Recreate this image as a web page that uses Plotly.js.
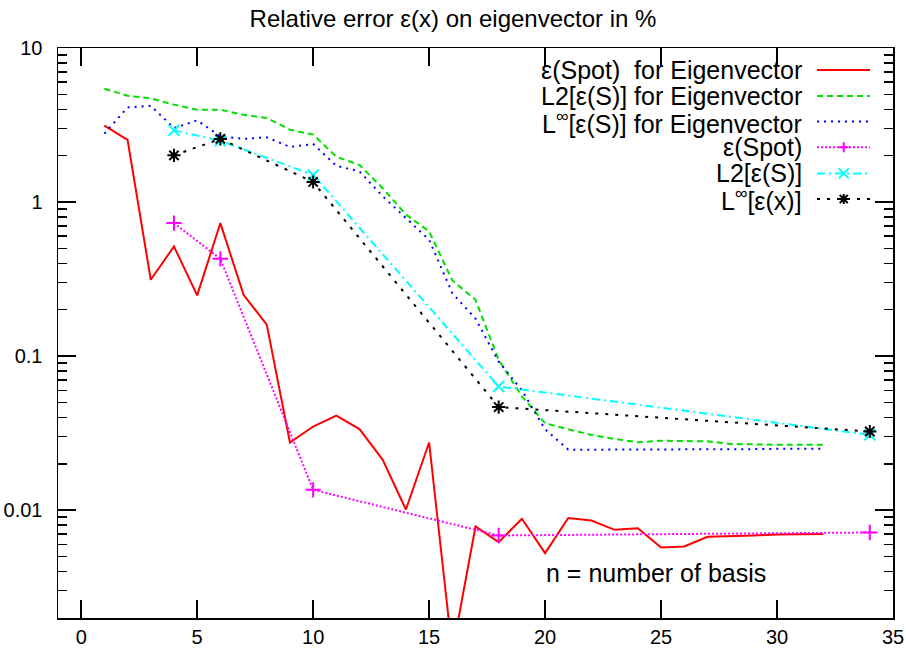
<!DOCTYPE html>
<html>
<head>
<meta charset="utf-8">
<script src="https://cdn.plot.ly/plotly-3.0.1.min.js"></script>
<style>html,body{margin:0;padding:0;background:#fff;}#chart{width:906px;height:650px;}</style>
</head>
<body>
<div id="chart"></div>
<script>
// ---- data ----
const nEig = [1,2,3,4,5,6,7,8,9,10,11,12,13,14,15,16,17,18,19,20,21,22,23,24,25,26,27,28,29,30,31,32];
const spotEig = [3.13,2.53,0.313,0.515,0.248,0.73,0.25,0.16,0.0275,0.0349,0.0411,0.0336,0.0212,0.0101,0.0275,0.0012,0.00783,0.0062,0.0088,0.00526,0.0089,0.00857,0.00745,0.00763,0.00572,0.00581,0.00671,0.00675,0.00684,0.00695,0.007,0.007];
const l2Eig = [5.44,4.90,4.71,4.29,3.97,3.97,3.69,3.51,2.95,2.74,1.97,1.74,1.23,0.83,0.645,0.31,0.232,0.0946,0.0547,0.0367,0.0335,0.0308,0.029,0.0276,0.0282,0.0282,0.028,0.0269,0.0266,0.0266,0.0266,0.0266];
const linfEig = [2.78,4.11,4.22,3.02,3.39,2.67,2.57,2.63,2.28,2.38,1.72,1.58,1.09,0.787,0.569,0.256,0.175,0.092,0.060,0.0335,0.0247,0.0247,0.0247,0.0247,0.0247,0.0248,0.0248,0.0249,0.0249,0.025,0.025,0.025];
const nSub = [4,6,10,18,34];
const spotSub = [0.73,0.428,0.01355,0.00685,0.00716];
const l2Sub = [2.92,2.50,1.50,0.0635,0.0308];
const linfSub = [2.01,2.57,1.35,0.0467,0.0324];
const legendLabels = ["ε(Spot)\u00a0 for Eigenvector","L2[ε(S)] for Eigenvector","L<sup>∞</sup>[ε(S)] for Eigenvector","ε(Spot)","L2[ε(S)]","L<sup>∞</sup>[ε(x)]"];
const xTickVals = [0,5,10,15,20,25,30,35];
const yTickVals = [0.01,0.1,1,10];
const yTickText = ["0.01","0.1","1","10"];

// ---- styles ----
const colors = ["#ff0000","#00e000","#0000ff","#ff00ff","#00ffff","#000000"];
const dashes = ["solid","6px,4px","2px,5px","2px,2px","8px,4px,2px,4px","3px,7px"];
const symbols = [null,null,null,"cross-thin-open","x-thin-open","asterisk-open"];

const series = [
  {x:nEig, y:spotEig},
  {x:nEig, y:l2Eig},
  {x:nEig, y:linfEig},
  {x:nSub, y:spotSub},
  {x:nSub, y:l2Sub},
  {x:nSub, y:linfSub}
];
const traces = series.map((s,i)=>{
  const t = {x:s.x, y:s.y, type:'scatter', mode: symbols[i] ? 'lines+markers':'lines',
    name: legendLabels[i], showlegend:false, cliponaxis:true,
    line:{color:colors[i], width:2, dash:dashes[i]}};
  if (symbols[i]) t.marker = {symbol:symbols[i], size:11, color:colors[i], line:{color:colors[i], width:2}};
  return t;
});

// minor log ticks
const minorVals = [];
[0.001,0.01,0.1,1].forEach(d=>{for(let k=2;k<=9;k++) minorVals.push(d*k);});

// ---- custom legend (text left, sample right) ----
const rowY = [0.9614,0.916,0.871,0.826,0.780,0.735];
const annotations = legendLabels.map((lab,i)=>({
  xref:'paper', yref:'paper', x:0.893, y:rowY[i], xanchor:'right', yanchor:'middle',
  text:lab, showarrow:false, font:{family:'Liberation Sans, Arial, sans-serif', size:25, color:'#000'}
}));
annotations.push({xref:'paper', yref:'paper', x:0.5825, y:0.079, xanchor:'left', yanchor:'middle',
  text:'n = number of basis', showarrow:false, font:{family:'Liberation Sans, Arial, sans-serif', size:25, color:'#000'}});

const shapes = [];
rowY.forEach((yy,i)=>{
  shapes.push({type:'line', xref:'paper', yref:'paper', x0:0.909, x1:0.9725, y0:yy, y1:yy,
    line:{color:colors[i], width:2, dash:dashes[i]}});
});
const mpaths = {
  "cross-thin-open":"M-5,0H5M0,-5V5",
  "x-thin-open":"M-5,-5L5,5M-5,5L5,-5",
  "asterisk-open":"M-5,0H5M0,-5V5M-4,-4L4,4M-4,4L4,-4"
};
rowY.forEach((yy,i)=>{
  if(!symbols[i]) return;
  shapes.push({type:'path', xref:'paper', yref:'paper', xsizemode:'pixel', ysizemode:'pixel',
    xanchor:0.941, yanchor:yy, path:mpaths[symbols[i]], line:{color:colors[i], width:2}});
});

const axisFont = {family:'Liberation Sans, Arial, sans-serif', size:20, color:'#000'};
const layout = {
  width:906, height:650,
  margin:{l:58, r:13, t:48, b:32},
  paper_bgcolor:'#fff', plot_bgcolor:'#fff',
  title:{text:'Relative error ε(x) on eigenvector in %', x:0.5, xref:'container', xanchor:'center',
    y:0.972, yref:'container', yanchor:'middle',
    font:{family:'Liberation Sans, Arial, sans-serif', size:24, color:'#000'}},
  xaxis:{range:[-1,35], tickmode:'array', tickvals:xTickVals, ticks:'inside', ticklen:18, tickwidth:1.5,
    tickcolor:'#000', showline:true, linecolor:'#000', linewidth:1.5, mirror:'ticks', showgrid:false,
    zeroline:false, tickfont:axisFont, ticklabelstandoff:0},
  yaxis:{type:'log', range:[-2.70,1], tickmode:'array', tickvals:yTickVals, ticktext:yTickText,
    ticks:'inside', ticklen:18, tickwidth:1.5, tickcolor:'#000', showline:true, linecolor:'#000',
    linewidth:1.5, mirror:'ticks', showgrid:false, zeroline:false, tickfont:axisFont, ticklabelstandoff:10,
    minor:{tickmode:'array', tickvals:minorVals, ticks:'inside', ticklen:9, tickwidth:1.5, tickcolor:'#000', showgrid:false}},
  showlegend:false,
  annotations:annotations,
  shapes:shapes
};
Plotly.newPlot('chart', traces, layout, {displayModeBar:false, staticPlot:true});
</script>
</body>
</html>
